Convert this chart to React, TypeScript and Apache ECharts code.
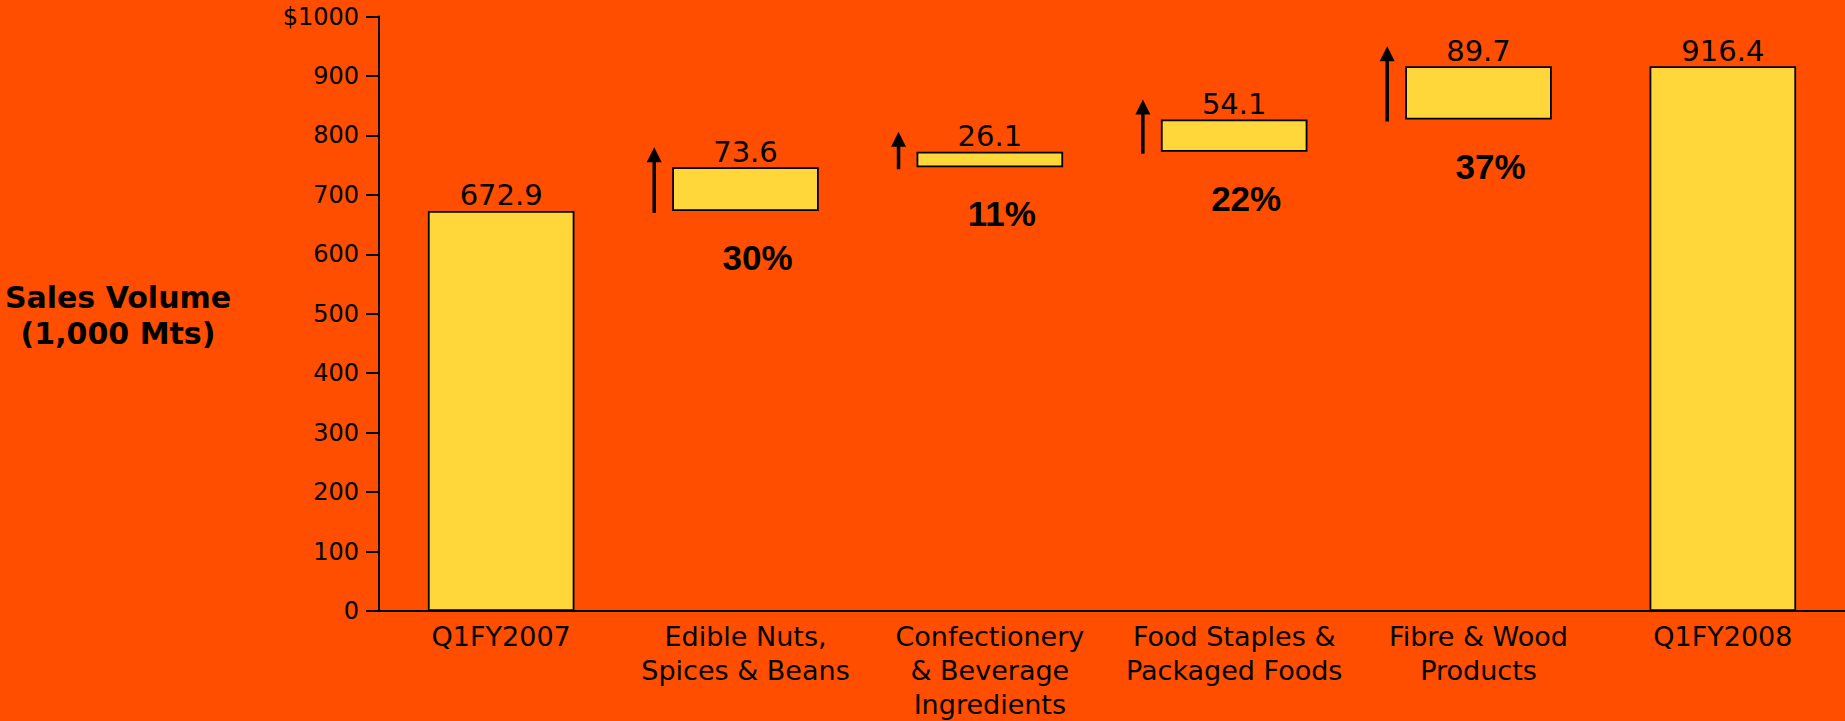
import React, { useEffect, useRef } from "react";
import * as echarts from "echarts";

const categories = [
  "Q1FY2007",
  "Edible Nuts,\nSpices & Beans",
  "Confectionery\n& Beverage\nIngredients",
  "Food Staples &\nPackaged Foods",
  "Fibre & Wood\nProducts",
  "Q1FY2008",
];
// bar heights: totals and increments
const barValues = [672.9, 73.6, 26.1, 54.1, 89.7, 916.4];
// invisible base under each floating increment
const baseValues = [0, 672.9, 746.5, 772.6, 826.7, 0];
const growthPct = [null, 30, 11, 22, 37, null];
const yTicks = [0, 100, 200, 300, 400, 500, 600, 700, 800, 900, 1000];

const BG = "#FF4E00";
const BAR = "#FFD73A";

export default function App() {
  const ref = useRef<HTMLDivElement>(null);
  useEffect(() => {
    const chart = echarts.init(ref.current!, null, { renderer: "svg" });
    const arrowData = baseValues
      .map((b, i) => (growthPct[i] != null ? [i, b, b + barValues[i]] : null))
      .filter((d) => d !== null);

    chart.setOption({
      animation: false,
      backgroundColor: BG,
      grid: { left: 379, top: 16.5, bottom: 108, width: 1469, containLabel: false },
      xAxis: {
        type: "category",
        data: categories,
        axisLine: { lineStyle: { color: "#000", width: 2 } },
        axisTick: { show: false },
        axisLabel: {
          interval: 0,
          color: "#000",
          fontFamily: "DejaVu Sans",
          fontSize: 27,
          lineHeight: 34,
          margin: 8,
        },
      },
      yAxis: {
        type: "value",
        min: yTicks[0],
        max: yTicks[yTicks.length - 1],
        interval: 100,
        splitLine: { show: false },
        axisLine: { show: true, lineStyle: { color: "#000", width: 2 } },
        axisTick: { show: true, length: 13, lineStyle: { color: "#000", width: 2 } },
        axisLabel: {
          color: "#000",
          fontFamily: "DejaVu Sans",
          fontSize: 24,
          margin: 20,
          formatter: (v: number) => (v === 1000 ? "$" + v : String(v)),
        },
      },
      graphic: [
        {
          type: "text",
          x: 118,
          y: 315,
          style: {
            text: "Sales Volume\n(1,000 Mts)",
            fill: "#000",
            font: "bold 30px 'DejaVu Sans'",
            lineHeight: 36,
            align: "center",
            verticalAlign: "middle",
          },
        },
      ],
      series: [
        {
          name: "base",
          type: "bar",
          stack: "w",
          barWidth: "60%",
          data: baseValues,
          itemStyle: { color: "rgba(0,0,0,0)" },
          label: {
            show: true,
            position: "insideTop",
            offset: [12, 24],
            color: "#000",
            fontFamily: "Liberation Sans",
            fontWeight: "bold",
            fontSize: 35,
            formatter: (p: any) =>
              growthPct[p.dataIndex] != null ? growthPct[p.dataIndex] + "%" : "",
          },
          silent: true,
        },
        {
          name: "value",
          type: "bar",
          stack: "w",
          barWidth: "60%",
          data: barValues,
          itemStyle: { color: BAR, borderColor: "#000", borderWidth: 1.8 },
          label: {
            show: true,
            position: "top",
            distance: 1,
            color: "#000",
            fontFamily: "DejaVu Sans",
            fontSize: 29,
            formatter: (p: any) => Number(p.value).toFixed(1),
          },
        },
        {
          name: "arrows",
          type: "custom",
          data: arrowData,
          z: 10,
          renderItem: (params: any, api: any) => {
            const b = api.coord([api.value(0), api.value(1)]);
            const t = api.coord([api.value(0), api.value(2)]);
            const band = api.size([1, 0])[0];
            const x = b[0] - band * 0.3 - 18;
            const y0 = b[1] + 2;
            const tip = t[1] - 20;
            const head = 15;
            return {
              type: "group",
              children: [
                {
                  type: "line",
                  shape: { x1: x, y1: y0, x2: x, y2: tip + head - 1 },
                  style: { stroke: "#000", lineWidth: 3.5 },
                },
                {
                  type: "polygon",
                  shape: {
                    points: [
                      [x, tip],
                      [x - 7.5, tip + head],
                      [x + 7.5, tip + head],
                    ],
                  },
                  style: { fill: "#000" },
                },
              ],
            };
          },
        },
      ],
    });
    return () => chart.dispose();
  }, []);
  return (
    <div
      ref={ref}
      style={{ position: "fixed", left: 0, top: 0, width: 1845, height: 721 }}
    />
  );
}
